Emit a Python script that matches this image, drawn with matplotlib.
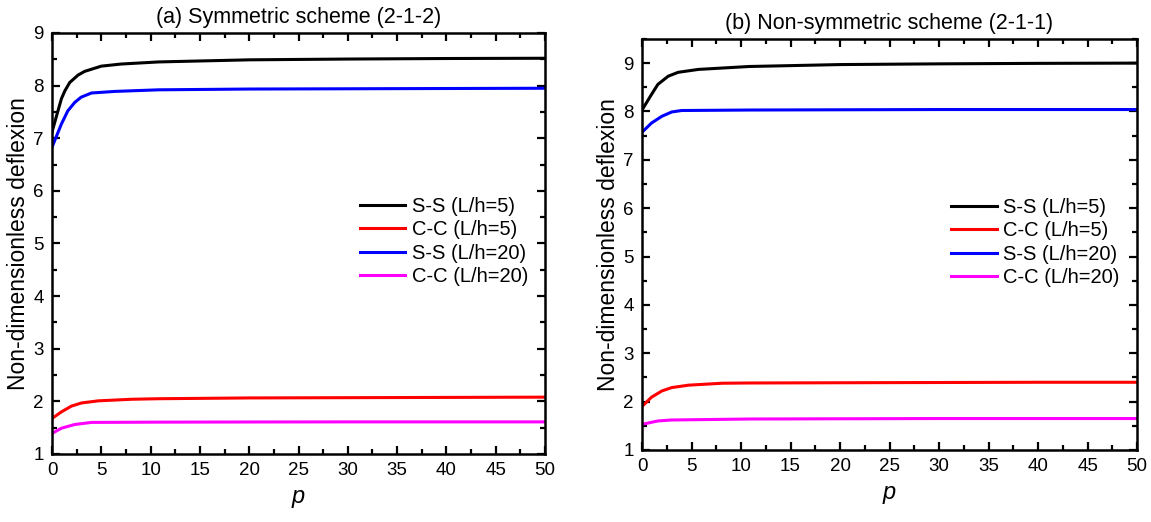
import matplotlib
matplotlib.use("Agg")
import matplotlib.pyplot as plt
from matplotlib.ticker import MultipleLocator

plt.rcParams['font.family'] = ['Liberation Sans', 'DejaVu Sans']

# (a) symmetric scheme
p_a = [0, 0.95, 1.3, 1.8, 2.64, 3.3, 5.0, 7.0, 10.8, 20, 30, 40, 50]
ss5_a = [7.12, 7.75, 7.90, 8.06, 8.20, 8.27, 8.37, 8.41, 8.45, 8.49, 8.505, 8.515, 8.52]
p_a2 = [0, 0.95, 1.6, 2.3, 2.95, 4.0, 6.4, 10.8, 20, 30, 40, 50]
ss20_a = [6.83, 7.27, 7.52, 7.68, 7.78, 7.86, 7.89, 7.92, 7.935, 7.94, 7.945, 7.95]
p_a3 = [0, 0.95, 1.97, 3.0, 4.7, 8.1, 10.8, 20, 30, 40, 50]
cc5_a = [1.675, 1.80, 1.91, 1.97, 2.01, 2.04, 2.05, 2.065, 2.07, 2.075, 2.08]
p_a4 = [0, 0.95, 2.3, 4.0, 10.8, 20, 30, 40, 50]
cc20_a = [1.39, 1.49, 1.56, 1.60, 1.605, 1.608, 1.61, 1.61, 1.61]

# (b) non-symmetric scheme
p_b = [0, 0.95, 1.6, 2.65, 3.65, 5.7, 10.8, 20, 30, 40, 50]
ss5_b = [8.03, 8.35, 8.56, 8.73, 8.81, 8.87, 8.93, 8.97, 8.985, 8.995, 9.0]
p_b2 = [0, 0.95, 2.0, 3.0, 4.0, 10.8, 20, 30, 40, 50]
ss20_b = [7.57, 7.76, 7.90, 7.99, 8.02, 8.03, 8.035, 8.04, 8.04, 8.04]
p_b3 = [0, 0.95, 2.0, 3.0, 4.7, 8.1, 10.8, 20, 30, 40, 50]
cc5_b = [1.9, 2.09, 2.22, 2.29, 2.34, 2.38, 2.385, 2.39, 2.395, 2.40, 2.40]
p_b4 = [0, 1.6, 3.0, 10.8, 20, 30, 40, 50]
cc20_b = [1.53, 1.60, 1.62, 1.64, 1.645, 1.65, 1.65, 1.65]

labels = ['S-S (L/h=5)', 'C-C (L/h=5)', 'S-S (L/h=20)', 'C-C (L/h=20)']
colors = ['black', 'red', 'blue', 'magenta']
titles = ['(a) Symmetric scheme (2-1-2)', '(b) Non-symmetric scheme (2-1-1)']

fig = plt.figure(figsize=(11.51, 5.22), dpi=100)
ax_a = fig.add_axes([0.0452, 0.1303, 0.4283, 0.8065])
ax_b = fig.add_axes([0.5578, 0.138, 0.4301, 0.7874])

panels = [
    (ax_a, [(p_a, ss5_a), (p_a3, cc5_a), (p_a2, ss20_a), (p_a4, cc20_a)], (1, 9)),
    (ax_b, [(p_b, ss5_b), (p_b3, cc5_b), (p_b2, ss20_b), (p_b4, cc20_b)], (1, 9.5)),
]

for i, (ax, series, ylim) in enumerate(panels):
    for (p, y), lab, col in zip(series, labels, colors):
        ax.plot(p, y, color=col, lw=2.2, label=lab)
    ax.set_xlim(0, 50)
    ax.set_ylim(*ylim)
    ax.xaxis.set_major_locator(MultipleLocator(5))
    ax.xaxis.set_minor_locator(MultipleLocator(2.5))
    ax.yaxis.set_major_locator(MultipleLocator(1))
    ax.yaxis.set_minor_locator(MultipleLocator(0.5))
    ax.tick_params(which='both', direction='in', top=True, right=True,
                   labelsize=13.5, width=1.6, pad=6)
    ax.tick_params(which='major', length=6)
    ax.tick_params(which='minor', length=3.5)
    for s in ax.spines.values():
        s.set_linewidth(1.8)
    ax.set_xlabel('p', style='italic', fontsize=17, labelpad=4)
    ax.set_ylabel('Non-dimensionless deflexion', fontsize=16.5, labelpad=2)
    ax.set_title(titles[i], fontsize=15.5, pad=7)
    ax.legend(loc='center left', bbox_to_anchor=(0.625, 0.505), frameon=False,
              fontsize=14.5, handlelength=2.25, handletextpad=0.33,
              labelspacing=0.22, borderpad=0, borderaxespad=0)

fig.savefig('out.png', dpi=100)
